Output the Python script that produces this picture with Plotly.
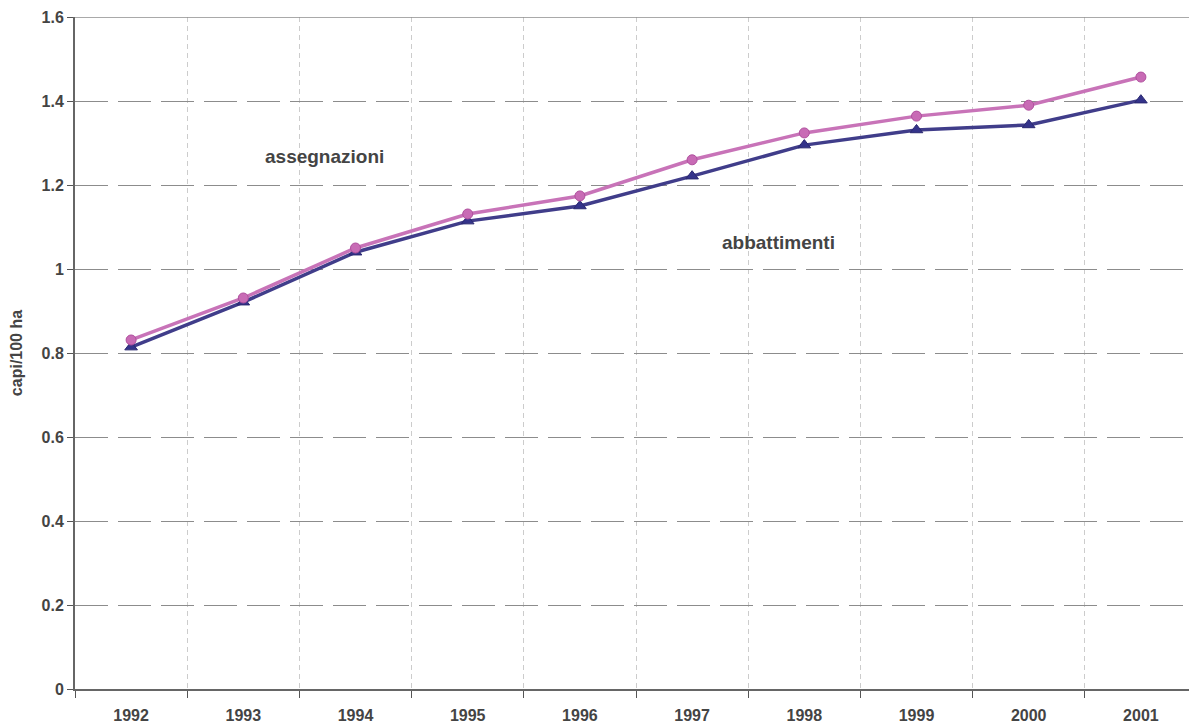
import plotly.graph_objects as go

years = ["1992", "1993", "1994", "1995", "1996", "1997", "1998", "1999", "2000", "2001"]
assegnazioni = [0.831, 0.931, 1.050, 1.131, 1.174, 1.260, 1.324, 1.364, 1.390, 1.457]
abbattimenti = [0.814, 0.921, 1.040, 1.114, 1.150, 1.221, 1.295, 1.331, 1.343, 1.402]
y_ticks = [0, 0.2, 0.4, 0.6, 0.8, 1.0, 1.2, 1.4, 1.6]

font_family = "Liberation Sans, Arial, sans-serif"
text_color = "#444444"

fig = go.Figure()
fig.add_trace(go.Scatter(
    x=years, y=abbattimenti, mode="lines+markers", name="abbattimenti",
    line=dict(color="#403d8a", width=3.5),
    marker=dict(symbol="triangle-up", size=11, color="#34338a",
                line=dict(color="#2a2870", width=1)),
))
fig.add_trace(go.Scatter(
    x=years, y=assegnazioni, mode="lines+markers", name="assegnazioni",
    line=dict(color="#c873b8", width=3.5),
    marker=dict(symbol="circle", size=10, color="#c86bb5",
                line=dict(color="#b0509e", width=1)),
))

fig.update_layout(
    width=1189, height=720,
    margin=dict(l=67, r=0, t=9, b=39),
    paper_bgcolor="white", plot_bgcolor="white",
    showlegend=False,
    font=dict(family=font_family, color=text_color),
    xaxis=dict(
        type="category", range=[-0.5, 9.5], automargin=False,
        tickson="boundaries", ticks="outside", ticklen=7, tickcolor="#555555",
        showgrid=True, gridcolor="#cccccc", griddash="5px,4px", gridwidth=1,
        showline=True, linecolor="#666666", linewidth=2,
        tickfont=dict(size=16, family=font_family, color=text_color, weight="bold"),
        ticklabelstandoff=11,
        zeroline=False,
    ),
    yaxis=dict(
        range=[0, 1.6], tickvals=y_ticks, automargin=False,
        ticks="outside", ticklen=6, tickcolor="#555555",
        showgrid=True, gridcolor="#8c8c8c", griddash="33px,10px", gridwidth=1,
        showline=True, linecolor="#666666", linewidth=2,
        tickfont=dict(size=16, family=font_family, color=text_color, weight="bold"),
        title=dict(text="capi/100 ha", standoff=20,
                   font=dict(size=16, family=font_family, color=text_color, weight="bold")),
        zeroline=False,
    ),
    shapes=[dict(type="line", xref="paper", yref="y", x0=0, x1=1, y0=1.6, y1=1.6,
                 line=dict(color="#8c8c8c", width=1.5))],
    annotations=[
        dict(text="assegnazioni", x=1.72, y=1.267, xref="x", yref="y", showarrow=False,
             font=dict(size=19, family=font_family, color=text_color, weight="bold")),
        dict(text="abbattimenti", x=5.774, y=1.064, xref="x", yref="y", showarrow=False,
             font=dict(size=19, family=font_family, color=text_color, weight="bold")),
    ],
)

fig.write_html("out.html")
